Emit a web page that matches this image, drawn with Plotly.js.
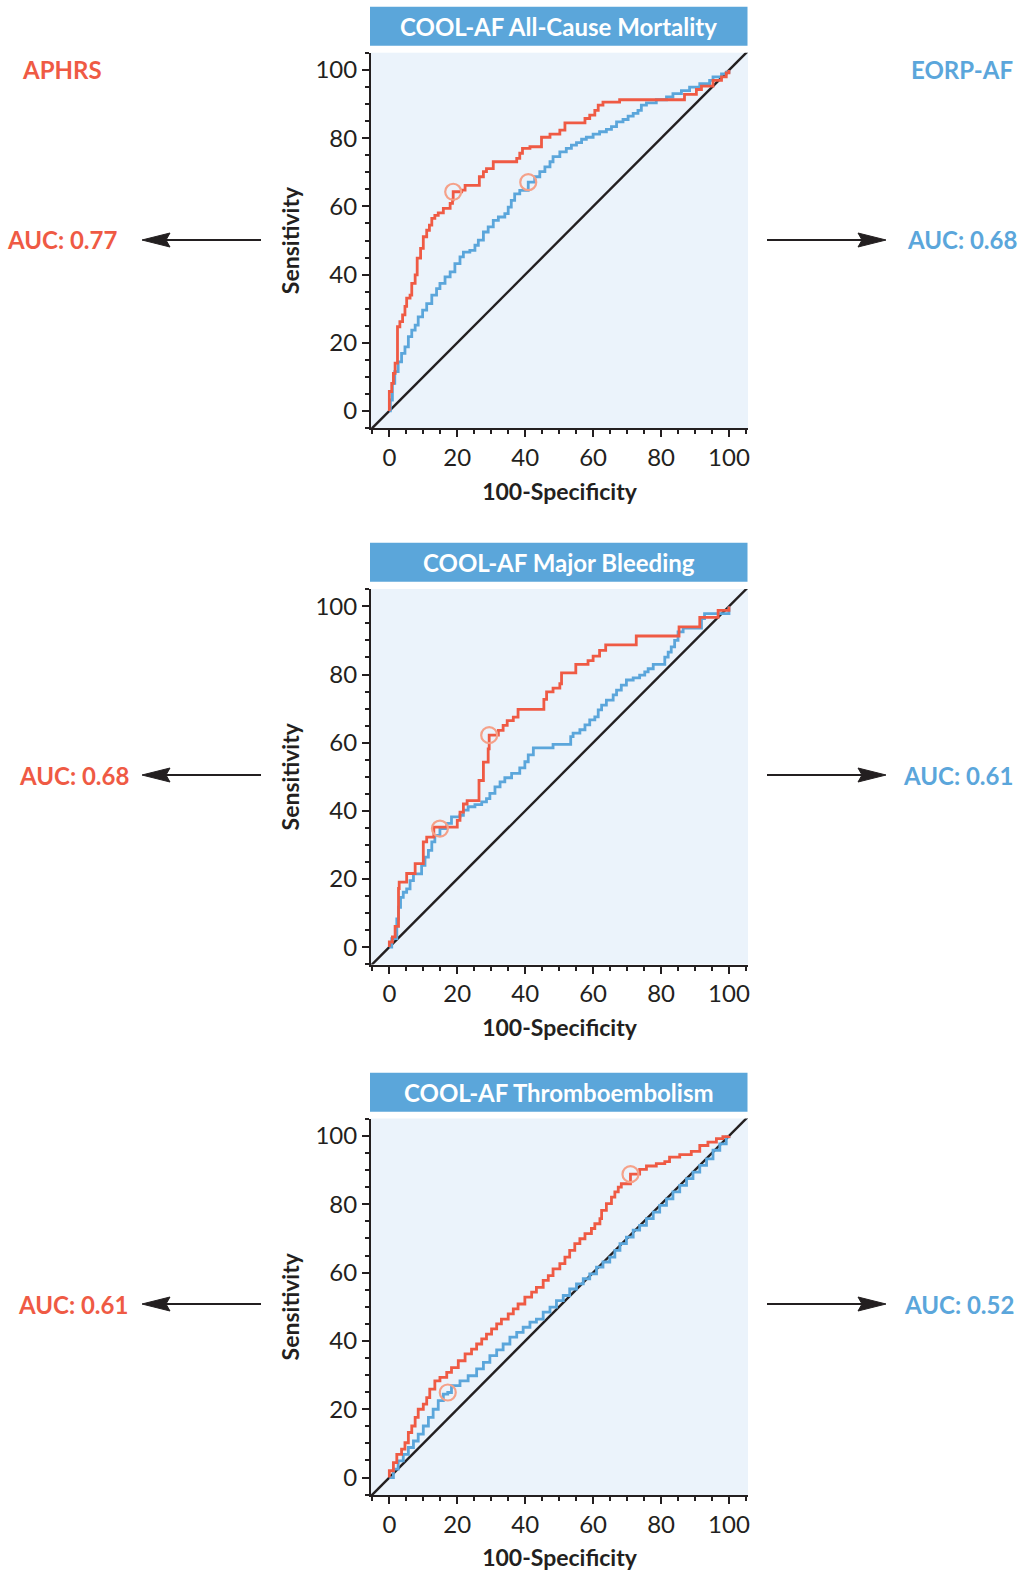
<!DOCTYPE html>
<html>
<head>
<meta charset="utf-8">
<script src="https://cdn.plot.ly/plotly-3.0.1.min.js"></script>
<style>html,body{margin:0;padding:0;background:#fff;}#chart{width:1029px;height:1571px;}</style>
</head>
<body>
<div id="chart"></div>
<script>
// ---------- data ----------
const outcomes = ['All-Cause Mortality', 'Major Bleeding', 'Thromboembolism'];
const aucAPHRS = [0.77, 0.68, 0.61];
const aucEORP = [0.68, 0.61, 0.52];
const tickVals = [0, 20, 40, 60, 80, 100];
const chanceLine = [-6, 106];

// All-cause mortality
const mortAphrsX = [0,0,0.7,1.2,1.7,2.4,3.1,3.9,4.6,5.1,6.1,6.6,7.6,8.2,9.2,10,11,11.8,12.5,13.4,14.4,15.9,17.9,18.6,18.8,21.3,22.3,26.5,27.7,28.6,30.6,37.5,38.4,39.2,41.4,44.8,47.3,50.2,51.7,57.6,59,60.5,61.5,62.9,67.8,86.9,90.4,91.9,95.3,97.8,99.2,100];
const mortAphrsY = [0,5.7,8.1,11,14,24.7,26.2,28.2,30.7,33.1,34,37.4,39.9,44.8,47.7,51.1,53,54.5,56.5,57.4,58.1,59.4,60.9,61.9,64.3,64.8,66.2,68.7,70.2,71.1,73.1,74.1,75.6,77,77.5,80.3,81.2,82.4,84.5,85.8,86.8,88.2,89.7,90.6,91.3,92.9,94.3,95.3,97,98,99.2,100];
const mortEorpX = [0,0.3,0.9,1.6,2.6,3.6,4.6,5.6,6.6,7.6,8.5,9.8,11,12.5,13.9,14.9,16.4,17.9,19.3,20.8,21.8,23.7,25.2,26.2,27.7,29.1,30.6,32.1,34,35,35.9,36.9,38.4,40.9,42.8,44.3,45.8,47.3,48.2,50.2,52.1,53.6,55.1,56.6,58,60,61.9,63.9,65.4,66.9,68.8,70.3,71.8,73.2,74.2,75.7,78.6,81.6,83.5,86,88.4,91.4,94.3,95.3,97.8,99.2,100];
const mortEorpY = [0,3.2,8.1,11.5,14.4,16.9,18.8,21.8,23.7,25.2,27.6,29.6,31.5,34,35.9,37.4,39.3,40.8,43.2,45.2,46.6,47.1,48.6,50.1,52.5,54,55.9,56.9,57.9,59.8,61.8,63.7,64.7,67.1,68.7,70.2,71.6,73.1,74.6,76,77,78,78.7,79.7,80.3,81.2,81.9,82.6,83.4,84.8,85.5,86.5,87.3,88.2,89.7,90.4,91.3,92.1,93.1,94,95,96,97,98,98.9,99.4,100];
const mortCutX = [18.8, 40.9];
const mortCutY = [64.3, 67.1];

// Major bleeding
const bleedAphrsX = [0,0,0.9,1.7,2.7,2.9,5.1,7.6,10,11,13.1,20,20.8,21.8,22.9,26.4,27.7,29.1,29.4,32.1,33.5,34.7,36.5,37.9,45.5,46.3,48.2,50.2,50.7,54.9,58.5,60,61.9,63.7,72.7,85.3,91.4,96.8,100];
const bleedAphrsY = [0,1.5,3.0,6.1,17.2,19.1,21.6,24.5,30.9,32.3,35.2,37.2,39.6,42,43,48.9,54.3,58.2,62.2,63.6,65.1,66.5,67.5,69.8,72.7,74.9,76,77.3,80.5,83,84.1,85.4,87.1,88.7,91.3,94,96.8,98.8,100];
const bleedEorpX = [0,0.7,2.2,2.7,3.3,4.1,5.1,6.1,7.1,9.5,10.5,11.5,12.5,13.4,14.9,16.9,18.3,20.8,21.8,23.2,25.2,27.2,28.6,29.6,31.1,32.6,34,36,38.4,39.9,40.9,42.4,48.2,53.4,54.1,56.1,57.6,59,60.5,61.5,62.5,63.9,65.9,66.9,68.3,69.8,71.8,73.7,75.2,76.2,77.7,81.1,82.1,83,84,85,86.5,91.9,92.8,100];
const bleedEorpY = [0,2.5,8.3,11.7,14.6,16.1,17.1,19.5,21.5,24,26.4,28.4,30.9,32.8,34.8,36.3,38.2,38.7,40.2,41.2,41.8,42.6,43.6,45.1,47,48.5,49.7,51,52.6,54.4,56.4,58.5,59.5,61.8,62.8,63.8,65.2,66.7,67.6,69.6,71,72.5,74,75.4,76.9,78.4,79,79.8,80.8,81.7,83,85.1,86.6,88.1,90,92.5,93.6,96.4,97.9,100];
const bleedCutX = [29.4, 14.9];
const bleedCutY = [62.2, 34.8];

// Thromboembolism
const thromAphrsX = [0,0,1.2,2.2,3.6,4.6,5.6,6.6,7.6,8.5,10,11,11.9,13.4,14.9,16.9,18.3,20.3,22.3,24.2,25.7,27.2,28.6,30.1,31.6,33,35,36.5,37.9,39.9,41.9,43.3,45.3,46.8,48.2,50.2,51.7,53.1,54.6,56.1,57.6,59.5,60.5,62,62.5,63.9,65.4,66.4,67.4,68.3,71,73.7,75.7,78.6,81.1,82.5,85.5,88.9,91.4,93.8,96.3,98.2,100];
const thromAphrsY = [0,2.0,4.4,6.8,8.3,10.2,13.2,15.1,17.6,20,21.5,23.4,25.9,28.3,29.3,30.8,32.2,34.2,36.2,37.6,39.1,40.6,42,43.5,45,46.4,47.9,49.4,50.8,52.8,54.3,55.7,57.7,59.1,61.1,62.6,64.5,66.5,68.5,69.9,71.4,72.9,74.3,75.8,78.2,80.2,82.1,83.6,85,86,88.8,90.2,91.2,91.9,92.5,93.8,94.5,95.5,97.2,98.2,99.2,99.8,100];
const thromEorpX = [0,1.2,2.6,4.1,5.6,7.1,8.5,10,11.5,12.9,14.4,15.9,17.2,18.3,20.8,23.2,25.7,27.7,29.6,31.6,33.5,35.5,37.5,39.4,41.4,43.3,45.3,47.3,49.2,51.2,53.1,55.1,57.1,59,61,62.9,64.9,66.4,67.9,69.8,71.8,73.7,75.7,77.7,79.6,81.6,83.5,85.5,87.5,89.4,91.4,93.4,95.3,97.3,99.2,100];
const thromEorpY = [0,2.5,4.9,6.8,8.8,10.7,12.7,15.1,17.6,20,22.5,24.4,24.9,26.9,28.3,29.8,31.8,33.7,35.7,37.4,39.1,41.1,42.5,44,45.5,46.4,48.4,49.9,51.8,53.3,55.2,56.7,58.2,59.6,61.6,63.1,64.5,66.5,68.5,70.4,72.4,73.8,75.8,77.7,79.7,81.6,83.6,85.5,87.5,89.4,91.4,93.3,95.8,97.7,99.7,100];
const thromCutX = [71, 17.2];
const thromCutY = [88.8, 24.9];

// ---------- styling ----------
const W = 1029, H = 1571;
const RED = '#EF5A44', BLUE = '#5BA6DB', BAR = '#5BA6DA', CUT = '#F5A189', INK = '#231F20';
const FONT = 'Lato, "Open Sans", sans-serif';
const plotTop = [52.7, 589, 1118.5], plotBot = [428.3, 964.5, 1495];
const barTop = [6.7, 542.7, 1072.7], barBot = [45.7, 581.7, 1111.7];
const arrowY = [240, 775, 1304];
const leftLabelX = [62, 73.5, 73], rightLabelX = [961.5, 958, 958.5];
const px = v => v / W, py = v => 1 - v / H;

const series = [
  [mortAphrsX, mortAphrsY, mortEorpX, mortEorpY, mortCutX, mortCutY],
  [bleedAphrsX, bleedAphrsY, bleedEorpX, bleedEorpY, bleedCutX, bleedCutY],
  [thromAphrsX, thromAphrsY, thromEorpX, thromEorpY, thromCutX, thromCutY]
];

const traces = [], shapes = [], annotations = [];
const layout = {
  width: W, height: H, margin: {l: 0, r: 0, t: 0, b: 0},
  paper_bgcolor: '#fff', plot_bgcolor: '#EBF3FB', showlegend: false,
  font: {family: FONT, color: INK}, hovermode: false
};

series.forEach((s, i) => {
  const n = i === 0 ? '' : String(i + 1);
  const xa = 'x' + n, ya = 'y' + n;
  traces.push({x: chanceLine, y: chanceLine, xaxis: xa, yaxis: ya, mode: 'lines', line: {color: INK, width: 2.4}});
  traces.push({x: s[2], y: s[3], xaxis: xa, yaxis: ya, mode: 'lines', line: {color: BLUE, width: 2.8, shape: 'hv'}});
  traces.push({x: s[0], y: s[1], xaxis: xa, yaxis: ya, mode: 'lines', line: {color: RED, width: 2.8, shape: 'hv'}});
  traces.push({x: s[4], y: s[5], xaxis: xa, yaxis: ya, mode: 'markers',
    marker: {symbol: 'circle-open', size: 16, color: CUT, line: {width: 2.2, color: CUT}}});

  const axCommon = {
    tick0: 0, dtick: 20, tickvals: tickVals, ticks: 'outside', ticklen: 7, tickwidth: 2, tickcolor: INK,
    showline: true, linewidth: 2, linecolor: INK, showgrid: false, zeroline: false,
    tickfont: {family: FONT, size: 24, color: INK},
    minor: {dtick: 5, tick0: 0, ticks: 'outside', ticklen: 4, tickwidth: 2, tickcolor: INK, showgrid: false},
    fixedrange: true
  };
  layout['xaxis' + n] = Object.assign({}, axCommon, {
    domain: [px(371), px(748)], range: [-5.4, 105.6], anchor: ya,
    title: {text: '<b>100-Specificity</b>', font: {family: FONT, size: 23, color: INK}, standoff: 14}
  });
  layout['yaxis' + n] = Object.assign({}, axCommon, {
    domain: [py(plotBot[i]), py(plotTop[i])], range: [-5.1, 105.1], anchor: xa,
    title: {text: '<b>Sensitivity</b>', font: {family: FONT, size: 23, color: INK}, standoff: 9}
  });

  // title bar
  shapes.push({type: 'rect', xref: 'paper', yref: 'paper', x0: px(370), x1: px(747.5),
    y0: py(barBot[i]), y1: py(barTop[i]), fillcolor: BAR, line: {width: 0}, layer: 'above'});
  annotations.push({xref: 'paper', yref: 'paper', x: px(558.5), y: py((barTop[i] + barBot[i]) / 2),
    text: '<b>COOL-AF ' + outcomes[i] + '</b>', showarrow: false, xanchor: 'center', yanchor: 'middle',
    font: {family: FONT, size: 24, color: '#fff'}});

  // AUC labels
  annotations.push({xref: 'paper', yref: 'paper', x: px(leftLabelX[i]), y: py(arrowY[i]),
    text: '<b>AUC: ' + aucAPHRS[i].toFixed(2) + '</b>', showarrow: false, xanchor: 'center', yanchor: 'middle',
    font: {family: FONT, size: 24, color: RED}});
  annotations.push({xref: 'paper', yref: 'paper', x: px(rightLabelX[i]), y: py(arrowY[i]),
    text: '<b>AUC: ' + aucEORP[i].toFixed(2) + '</b>', showarrow: false, xanchor: 'center', yanchor: 'middle',
    font: {family: FONT, size: 24, color: BLUE}});

  // arrows
  const ay = arrowY[i];
  shapes.push({type: 'line', xref: 'paper', yref: 'paper', x0: px(261), x1: px(160), y0: py(ay), y1: py(ay),
    line: {color: INK, width: 2}});
  shapes.push({type: 'path', xref: 'paper', yref: 'paper', fillcolor: INK, line: {color: INK, width: 1},
    path: `M ${px(142)} ${py(ay)} L ${px(170)} ${py(ay - 7)} L ${px(166)} ${py(ay)} L ${px(170)} ${py(ay + 7)} Z`});
  shapes.push({type: 'line', xref: 'paper', yref: 'paper', x0: px(767), x1: px(868), y0: py(ay), y1: py(ay),
    line: {color: INK, width: 2}});
  shapes.push({type: 'path', xref: 'paper', yref: 'paper', fillcolor: INK, line: {color: INK, width: 1},
    path: `M ${px(886)} ${py(ay)} L ${px(858)} ${py(ay - 7)} L ${px(862)} ${py(ay)} L ${px(858)} ${py(ay + 7)} Z`});
});

annotations.push({xref: 'paper', yref: 'paper', x: px(62), y: py(69), text: '<b>APHRS</b>', showarrow: false,
  xanchor: 'center', yanchor: 'middle', font: {family: FONT, size: 24, color: RED}});
annotations.push({xref: 'paper', yref: 'paper', x: px(962), y: py(69), text: '<b>EORP-AF</b>', showarrow: false,
  xanchor: 'center', yanchor: 'middle', font: {family: FONT, size: 24, color: BLUE}});

layout.shapes = shapes;
layout.annotations = annotations;
Plotly.newPlot('chart', traces, layout, {staticPlot: true, displayModeBar: false});
</script>
</body>
</html>
